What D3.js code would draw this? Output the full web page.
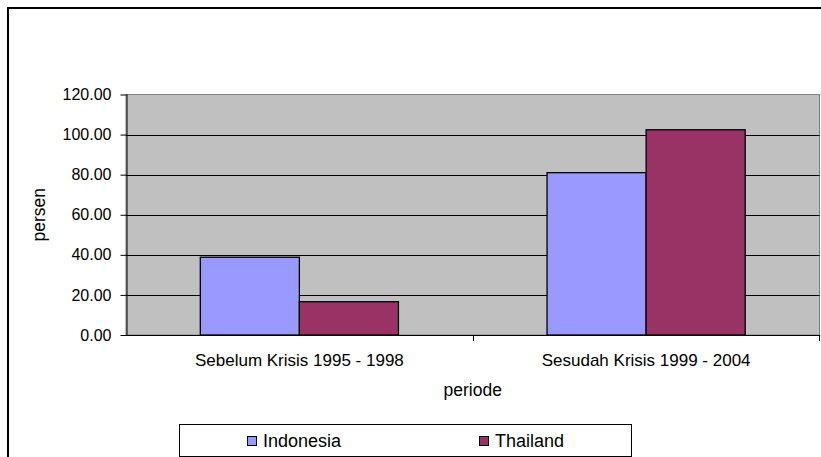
<!DOCTYPE html>
<html>
<head>
<meta charset="utf-8">
<script src="https://cdn.jsdelivr.net/npm/d3@7"></script>
<style>
  body{margin:0;background:#fff;}
  svg{display:block;font-family:"Liberation Sans",Arial,sans-serif;}
</style>
</head>
<body>
<svg id="chart" width="821" height="457"></svg>
<script>
// data
var categories = ["Sebelum Krisis 1995 - 1998", "Sesudah Krisis 1999 - 2004"];
var seriesNames = ["Indonesia", "Thailand"];
var indonesia = [38.8, 81.0];
var thailand = [16.6, 102.4];
var yTicks = [0, 20, 40, 60, 80, 100, 120];
var colors = ["#9999FF", "#993366"];

var svg = d3.select("#chart");
var plot = {left:126, right:819.5, top:94.5, bottom:335};
var font = "Liberation Sans, Arial, sans-serif";

// outer chart border
svg.append("rect")
	.attr("x",8).attr("y",8).attr("width",830).attr("height",470)
	.attr("fill","none").attr("stroke","#000").attr("stroke-width",2);

var x0 = d3.scaleBand().domain(categories).range([plot.left,plot.right]).paddingInner(0).paddingOuter(0);
var x1 = d3.scaleBand().domain(seriesNames).range([0,x0.bandwidth()]).paddingInner(0).paddingOuter(0.75);
var y = d3.scaleLinear().domain([0,120]).range([plot.bottom,plot.top]);

// plot area
svg.append("rect")
	.attr("x",plot.left).attr("y",plot.top)
	.attr("width",plot.right-plot.left).attr("height",plot.bottom-plot.top)
	.attr("fill","#C0C0C0").attr("stroke","#808080").attr("stroke-width",1);

// gridlines
svg.append("g").selectAll("line").data(yTicks.filter(function(d){return d>0 && d<120;}))
	.enter().append("line")
	.attr("x1",plot.left).attr("x2",plot.right)
	.attr("y1",function(d){return Math.round(y(d))+0.5;})
	.attr("y2",function(d){return Math.round(y(d))+0.5;})
	.attr("stroke","#000").attr("stroke-width",1);

// bars
var series = [indonesia, thailand];
var groups = svg.append("g").selectAll("g").data(categories).enter().append("g")
	.attr("transform",function(d){return "translate("+x0(d)+",0)";});
groups.selectAll("rect").data(function(d,i){
		return seriesNames.map(function(s,j){return {name:s,value:series[j][i],color:colors[j]};});
	}).enter().append("rect")
	.attr("x",function(d){return x1(d.name);})
	.attr("y",function(d){return y(d.value);})
	.attr("width",x1.bandwidth())
	.attr("height",function(d){return plot.bottom-y(d.value);})
	.attr("fill",function(d){return d.color;})
	.attr("stroke","#000").attr("stroke-width",1.3);

// y axis
var yAxis = d3.axisLeft(y).tickValues(yTicks).tickFormat(d3.format(".2f")).tickSize(6).tickPadding(9);
var gy = svg.append("g").attr("transform","translate("+(plot.left+0.5)+",0)").call(yAxis);
gy.attr("font-size",null).attr("font-family",null);
gy.select(".domain").attr("stroke","#000").attr("d","M0.5,"+plot.top+"V"+plot.bottom);
gy.selectAll(".tick line").attr("stroke","#000").attr("x1",0);
gy.selectAll(".tick text").style("font-size","16px").attr("fill","#000").style("font-family",font);

// x axis
var xAxis = d3.axisBottom(x0).tickSize(0).tickPadding(0);
var gx = svg.append("g").attr("transform","translate(0,"+plot.bottom+")").call(xAxis);
gx.attr("font-size",null).attr("font-family",null);
gx.select(".domain").attr("stroke","#000").attr("d","M"+plot.left+",0.5H"+plot.right);
gx.selectAll(".tick text").style("font-size","17px").attr("fill","#000").attr("dy",0).attr("y",31)
	.style("font-family",font);
// tick marks between categories
gx.append("g").selectAll("line").data(x0.domain().slice(1)).enter().append("line")
	.attr("x1",function(d){return Math.round(x0(d))+0.5;})
	.attr("x2",function(d){return Math.round(x0(d))+0.5;})
	.attr("y1",0).attr("y2",6).attr("stroke","#000");
gx.append("line").attr("x1",plot.right).attr("x2",plot.right).attr("y1",0).attr("y2",6).attr("stroke","#000");

// axis titles
svg.append("text").attr("x",(plot.left+plot.right)/2).attr("y",396)
	.attr("text-anchor","middle").style("font-size","17.5px").text("periode");
svg.append("text").attr("transform","translate(45,"+((plot.top+plot.bottom)/2)+") rotate(-90)")
	.attr("text-anchor","middle").style("font-size","17.5px").text("persen");

// legend
var lg = svg.append("g");
lg.append("rect").attr("x",179.5).attr("y",424.5).attr("width",452).attr("height",32)
	.attr("fill","#fff").attr("stroke","#000");
var legendX = [247, 479];
seriesNames.forEach(function(s,i){
	lg.append("rect").attr("x",legendX[i]+0.5).attr("y",436.5).attr("width",9).attr("height",9)
		.attr("fill",colors[i]).attr("stroke","#000");
	lg.append("text").attr("x",legendX[i]+16).attr("y",446.5).style("font-size","18px").text(s);
});
</script>
</body>
</html>
